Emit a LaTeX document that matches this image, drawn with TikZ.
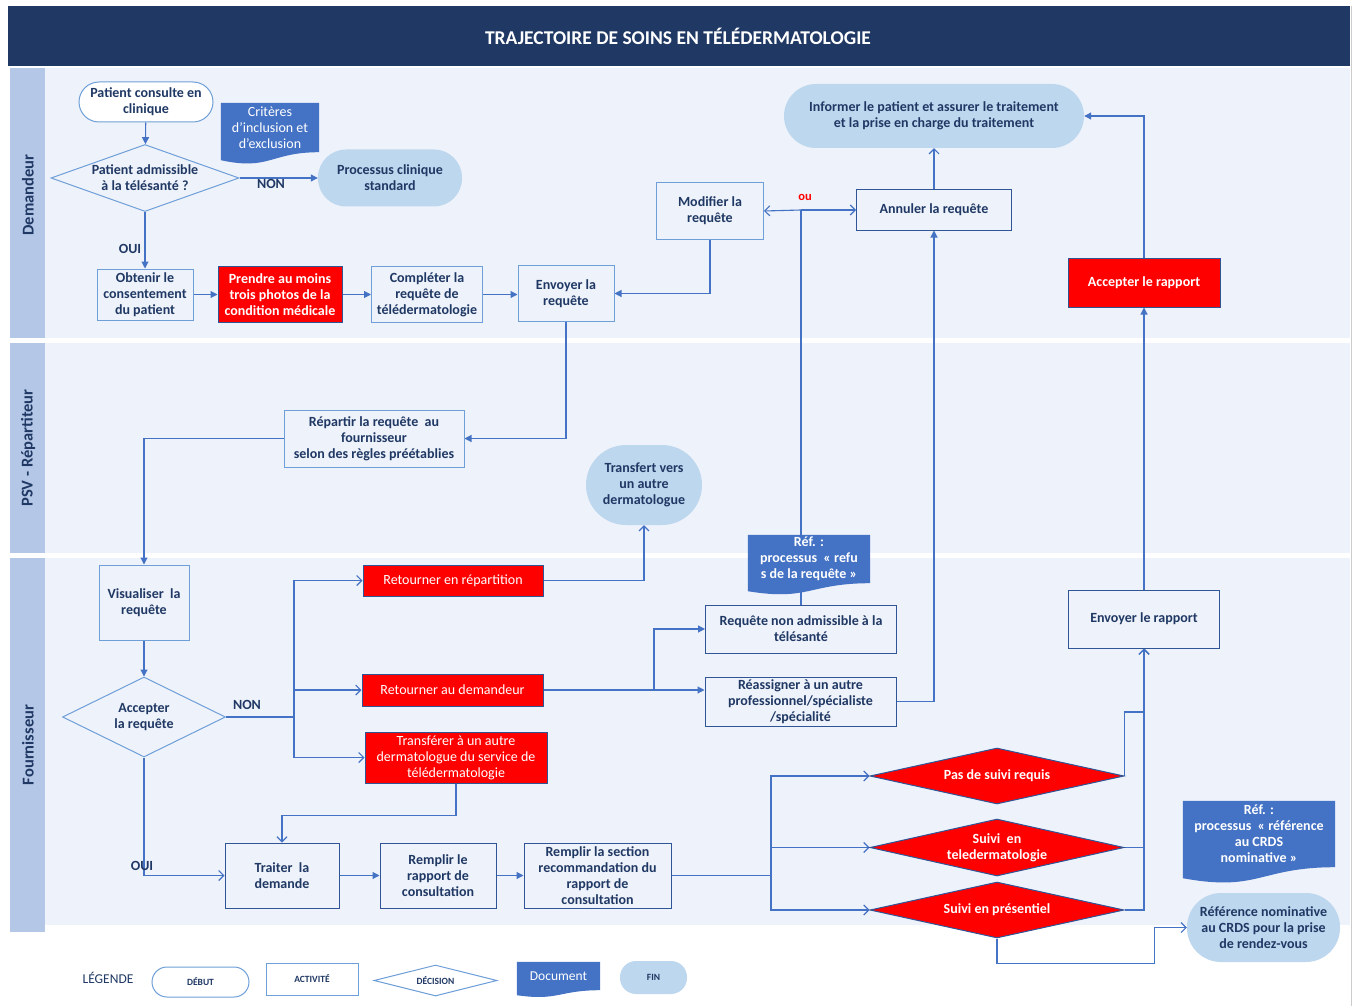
\documentclass[tikz,border=0pt]{standalone}
\usepackage{fontspec}
\setmainfont{Carlito}
\usetikzlibrary{arrows.meta,shapes.geometric,calc}
\pgfdeclarelayer{lanes}\pgfdeclarelayer{conn}\pgfdeclarelayer{docl}
\pgfsetlayers{lanes,conn,docl,main}
\definecolor{navy}{HTML}{203864}
\definecolor{strip}{HTML}{B4C7E7}
\definecolor{lanebg}{HTML}{EEF2FA}
\definecolor{txt}{HTML}{1F3864}
\definecolor{lineblue}{HTML}{4472C4}
\definecolor{boxlight}{HTML}{6F9FD8}
\definecolor{boxdark}{HTML}{2F5597}
\definecolor{pillblue}{HTML}{BDD7EE}
\definecolor{docblue}{HTML}{4472C4}
\newcommand\nfont{\fontsize{14}{16}\selectfont}
\newcommand\docfill[3]{\fill[docblue] (#1.north west) -- (#1.north east) -- (#1.south east) .. controls (#1.south) and ($(#1.south)+(0,#2)$) .. ($(#1.south west)+(0,#3)$) -- cycle;}
\tikzset{
 act/.style={draw=boxlight, line width=1pt, fill=lanebg, align=center, inner sep=1pt},
 actd/.style={act, draw=boxdark},
 redbox/.style={draw=boxdark, line width=1pt, fill=red, text=white, align=center, inner sep=1pt},
 pill/.style={fill=pillblue, align=center, inner sep=1pt},
 startp/.style={draw=boxlight, line width=1pt, fill=white, align=center, inner sep=1pt},
 dia/.style={diamond, draw=boxlight, line width=1pt, fill=lanebg, inner sep=0pt},
 reddia/.style={diamond, draw=boxdark, line width=1pt, fill=red, inner sep=0pt},
 docn/.style={text=white, align=center, inner sep=1pt},
 ln/.style={draw=lineblue, line width=1.1pt},
 fa/.style={ln, -{Triangle[length=7pt,width=7pt]}},
 oa/.style={ln, -{Straight Barb[length=5pt,width=10pt]}},
 leg/.style={font=\fontsize{9.5}{10}\selectfont\bfseries},
 lanelbl/.style={rotate=90, font=\fontsize{16.5}{18}\selectfont\bfseries},
}
\begin{document}
\begin{tikzpicture}[x=1pt,y=-1pt, every node/.style={font=\nfont\bfseries, text=txt}]
\useasboundingbox (0,0) rectangle (1353,1006);
\begin{pgfonlayer}{lanes}
\fill[navy] (8,6) rectangle (1350,66);
\fill[strip] (10,68) rectangle (45,338);
\fill[lanebg] (45,68) rectangle (1350,338);
\fill[strip] (10,343) rectangle (45,553);
\fill[lanebg] (45,343) rectangle (1350,553);
\fill[strip] (10,558) rectangle (45,932);
\fill[lanebg] (45,558) rectangle (1350,925);
\draw[black!20, line width=0.8pt] (1351,6) -- (1351,1006);
\end{pgfonlayer}

\node[text=white, font=\fontsize{19.5}{21}\selectfont\bfseries] (title) at (678,36) {TRAJECTOIRE DE SOINS EN TÉLÉDERMATOLOGIE};
\node[lanelbl] (lane1) at (28,195) {Demandeur};
\node[lanelbl] (lane2) at (28,448) {PSV - Répartiteur};
\node[lanelbl] (lane3) at (28,745) {Fournisseur};

% Demandeur
\node[startp, rounded corners=20pt, minimum width=134, minimum height=40] (start1) at (146,102) {Patient consulte en\\clinique};
\node[docn, font=\nfont, minimum width=98, minimum height=49] (doc1) at (270,127.5) {Critères\\d’inclusion et\\d’exclusion};
\node[dia, minimum width=188, minimum height=67, label={[align=center]center:Patient admissible\\à la télésanté ?}] (dec1) at (145,178) {};
\node[pill, rounded corners=28pt, minimum width=144, minimum height=57] (end1) at (390,178) {Processus clinique\\standard};
\node (non1) at (271,184) {NON};
\node (oui1) at (130,249) {OUI};
\node[act, minimum width=96, minimum height=51] (a1) at (145,294.5) {Obtenir le\\consentement\\du patient};
\node[redbox, minimum width=124, minimum height=56] (a2) at (280,294.5) {Prendre au moins\\trois photos de la\\condition médicale};
\node[act, minimum width=111, minimum height=56] (a3) at (427,294.5) {Compléter la\\requête de\\télédermatologie};
\node[act, minimum width=96, minimum height=56] (a4) at (566,293.5) {Envoyer la\\requête};
\node[act, minimum width=107, minimum height=56] (a5) at (710,211) {Modifier la\\requête};
\node[actd, minimum width=155, minimum height=40] (a6) at (934,210) {Annuler la requête};
\node[pill, rounded corners=32pt, minimum width=300, minimum height=64] (end2) at (934,116) {Informer le patient et assurer le traitement\\et la prise en charge du traitement};
\node[redbox, minimum width=152, minimum height=49] (a7) at (1144,282.5) {Accepter le rapport};
\node[text=red, font=\fontsize{12.5}{14}\selectfont\bfseries] (ou) at (805,197) {ou};

% PSV
\node[act, minimum width=180, minimum height=57] (r1) at (374,438.5) {Répartir la requête\ \ au\\fournisseur\\selon des règles préétablies};
\node[pill, rounded corners=40pt, minimum width=116, minimum height=80] (r2) at (644,485) {Transfert vers\\un autre\\dermatologue};

% Fournisseur
\node[act, minimum width=90, minimum height=75] (f1) at (144,602.5) {Visualiser\ \ la\\requête};
\node[dia, minimum width=163, minimum height=80, label={[align=center]center:Accepter\\la requête}] (f2) at (144,717) {};
\node (non2) at (247,705) {NON};
\node (oui2) at (142,866) {OUI};
\node[redbox, font=\nfont, minimum width=180, minimum height=31] (ret1) at (453,580.5) {Retourner en répartition};
\node[redbox, font=\nfont, minimum width=181, minimum height=32] (ret2) at (452.5,690) {Retourner au demandeur};
\node[redbox, font=\nfont, minimum width=182, minimum height=51] (tr) at (456,757.5) {Transférer à un autre\\dermatologue du service de\\télédermatologie};
\node[actd, minimum width=191, minimum height=48] (nonadm) at (801,629) {Requête non admissible à la\\télésanté};
\node[actd, minimum width=191, minimum height=49] (reas) at (800.5,701.5) {Réassigner à un autre\\professionnel/spécialiste\\/spécialité};
\node[docn, minimum width=122, minimum height=48] (doc2) at (809,559) {Réf. :\\processus\ \ « refu\\s de la requête »};
\node[actd, minimum width=114, minimum height=65] (t1) at (282,875.5) {Traiter\ \ la\\demande};
\node[actd, minimum width=116, minimum height=65] (t2) at (438,875.5) {Remplir le\\rapport de\\consultation};
\node[actd, minimum width=147, minimum height=65] (t3) at (597.5,875.5) {Remplir la section\\recommandation du\\rapport de\\consultation};
\node[reddia, minimum width=254, minimum height=56, label={[text=white]center:Pas de suivi requis}] (d1) at (997,776) {};
\node[reddia, minimum width=254, minimum height=57, label={[text=white,align=center]center:Suivi\ \ en\\teledermatologie}] (d2) at (997,847.5) {};
\node[reddia, minimum width=254, minimum height=56, label={[text=white]center:Suivi en présentiel}] (d3) at (997,910) {};
\node[actd, minimum width=151, minimum height=58] (env) at (1144,619) {Envoyer le rapport};
\node[docn, minimum width=152, minimum height=66] (doc3) at (1259,834) {Réf. :\\processus\ \ « référence\\au CRDS\\nominative »};
\node[pill, rounded corners=34pt, minimum width=153, minimum height=69] (refnom) at (1263.5,927.5) {Référence nominative\\au CRDS pour la prise\\de rendez-vous};

% Legend
\node[font=\fontsize{13.5}{15}\selectfont] (legt) at (108,978) {LÉGENDE};
\node[startp, leg, rounded corners=15pt, minimum width=97, minimum height=30] (lg1) at (200.5,982) {DÉBUT};
\node[act, leg, fill=white, minimum width=92, minimum height=32] (lg2) at (312,979) {ACTIVITÉ};
\node[dia, fill=white, minimum width=123, minimum height=31, label={[leg]center:DÉCISION}] (lg3) at (435.5,980.5) {};
\node[docn, font=\fontsize{13.5}{15}\selectfont, minimum width=83, minimum height=28] (lg4) at (558.5,976) {Document};
\node[pill, leg, rounded corners=16pt, minimum width=67, minimum height=33] (lg5) at (653.5,977.5) {FIN};

\begin{pgfonlayer}{docl}
\docfill{doc1}{18.6}{8}
\docfill{doc2}{18}{8}
\docfill{doc3}{25}{11}
\docfill{lg4}{11}{5}
\end{pgfonlayer}

\coordinate (jou) at (801,210);
\coordinate (jn) at (294,717);
\coordinate (jr) at (654,690);
\coordinate (jt) at (771,875.5);

\begin{pgfonlayer}{conn}
\draw[fa] (start1) -- (dec1);
\draw[fa] (dec1.east) -- (end1.west);
\draw[fa] (dec1.south) -- (a1.north);
\draw[fa] (a1) -- (a2);
\draw[fa] (a2) -- (a3);
\draw[fa] (a3.east) -- (a3.east -| a4.west);
\draw[fa] (a5.south) |- (a4.east);
\draw[ln, line width=1.4pt] (nonadm.north) -- (jou);
\draw[oa] (jou) -- (a5.east);
\draw[oa] (jou) -- (a6.west);
\draw[oa] (a6.north) -- (end2.south);
\draw[fa] (a7.north) |- (end2.east);
\draw[fa] (env.north) -- (a7.south);
\draw[fa] (a4.south) |- (r1.east);
\draw[fa] (r1.west) -| (f1.north);
\draw[fa] (f1.south) -- (f2.north);
\draw[ln] (f2.east) -- (jn);
\draw[oa] (jn) |- (ret1.west);
\draw[oa] (jn) |- (ret2.west);
\draw[oa] (jn) |- (tr.west);
\draw[oa] (ret1.east) -| (r2.south);
\draw[ln] (ret2.east) -- (jr);
\draw[fa] (jr) |- (nonadm.west);
\draw[fa] (jr) -- (jr -| reas.west);
\draw[fa] (reas.east) -| (a6.south);
\draw[oa] (tr.south) -- ($(tr.south)+(0,32)$) -| (t1.north);
\draw[oa] (f2.south) |- (t1.west);
\draw[fa] (t1) -- (t2);
\draw[fa] (t2) -- (t3);
\draw[ln] (t3.east) -- (jt);
\draw[oa] (jt) |- (d1.west);
\draw[oa] (jt) |- (d2.west);
\draw[oa] (jt) |- (d3.west);
\draw[oa] (d1.east) -- ($(d1.east)+(0,-64)$) -| (env.south);
\draw[oa] (d2.east) -| (env.south);
\draw[oa] (d3.east) -| (env.south);
\draw[oa] (d3.south) |- ($(refnom.west)+(-32,36)$) |- (refnom.west);
\end{pgfonlayer}
\end{tikzpicture}
\end{document}
